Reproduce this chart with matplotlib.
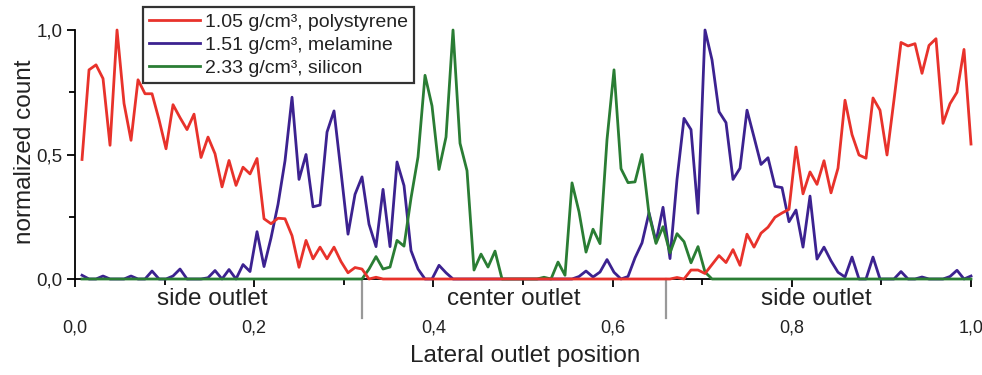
import matplotlib
matplotlib.use('Agg')
import matplotlib.pyplot as plt
import matplotlib.transforms as mtransforms
from matplotlib.ticker import FuncFormatter, MultipleLocator
import numpy as np

plt.rcParams['font.family'] = ['Liberation Sans', 'DejaVu Sans']
plt.rcParams['text.color'] = '#222222'
plt.rcParams['xtick.labelcolor'] = '#222222'
plt.rcParams['ytick.labelcolor'] = '#222222'
plt.rcParams['axes.labelcolor'] = '#222222'

# normalized counts per outlet bin (128 bins over the channel width)
polystyrene = [
    0.48, 0.84, 0.86, 0.805, 0.537, 1.0, 0.705, 0.557, 0.80, 0.744,
    0.744, 0.64, 0.523, 0.70, 0.648, 0.60, 0.662, 0.488, 0.57, 0.503,
    0.37, 0.476, 0.376, 0.449, 0.422, 0.484, 0.242, 0.222, 0.244, 0.242,
    0.174, 0.047, 0.155, 0.081, 0.128, 0.081, 0.128, 0.07, 0.025, 0.046,
    0.04, 0.0, 0.007, 0.0, 0.0, 0.0, 0.0, 0.0, 0.0, 0.0,
    0.0, 0.0, 0.0, 0.0, 0.0, 0.0, 0.0, 0.0, 0.0, 0.0,
    0.0, 0.0, 0.0, 0.0, 0.0, 0.0, 0.0, 0.0, 0.0, 0.0,
    0.0, 0.0, 0.0, 0.0, 0.0, 0.0, 0.0, 0.0, 0.0, 0.0,
    0.0, 0.0, 0.0, 0.0, 0.0, 0.006, 0.0, 0.036, 0.036, 0.022,
    0.058, 0.094, 0.066, 0.118, 0.055, 0.18, 0.128, 0.184, 0.208, 0.248,
    0.265, 0.28, 0.53, 0.342, 0.43, 0.38, 0.475, 0.346, 0.445, 0.718,
    0.58, 0.498, 0.485, 0.727, 0.678, 0.498, 0.72, 0.95, 0.936, 0.945,
    0.826, 0.938, 0.965, 0.625, 0.704, 0.75, 0.922, 0.542,
]
melamine = [
    0.015, 0.0, 0.0, 0.012, 0.0, 0.0, 0.0, 0.012, 0.0, 0.0,
    0.032, 0.0, 0.0, 0.012, 0.04, 0.0, 0.0, 0.0, 0.005, 0.034,
    0.0, 0.038, 0.0, 0.058, 0.03, 0.19, 0.05, 0.165, 0.30, 0.475,
    0.73, 0.40, 0.50, 0.29, 0.297, 0.59, 0.675, 0.43, 0.18, 0.34,
    0.41, 0.22, 0.13, 0.36, 0.13, 0.47, 0.375, 0.114, 0.04, 0.0,
    0.0, 0.055, 0.025, 0.0, 0.0, 0.0, 0.0, 0.0, 0.0, 0.0,
    0.0, 0.0, 0.0, 0.0, 0.0, 0.0, 0.0, 0.0, 0.0, 0.0,
    0.0, 0.01, 0.032, 0.008, 0.028, 0.078, 0.027, 0.0, 0.01, 0.085,
    0.145, 0.266, 0.15, 0.288, 0.082, 0.40, 0.645, 0.60, 0.264, 1.0,
    0.88, 0.672, 0.628, 0.40, 0.445, 0.678, 0.57, 0.46, 0.487, 0.372,
    0.367, 0.23, 0.277, 0.128, 0.333, 0.08, 0.128, 0.073, 0.027, 0.008,
    0.088, 0.0, 0.0, 0.088, 0.0, 0.0, 0.0, 0.03, 0.0, 0.0,
    0.008, 0.0, 0.0, 0.0, 0.01, 0.035, 0.0, 0.012,
]
silicon = [
    0.0, 0.0, 0.0, 0.0, 0.0, 0.0, 0.0, 0.0, 0.0, 0.0,
    0.0, 0.0, 0.0, 0.0, 0.0, 0.0, 0.0, 0.0, 0.0, 0.0,
    0.0, 0.0, 0.0, 0.0, 0.0, 0.0, 0.0, 0.0, 0.0, 0.0,
    0.0, 0.0, 0.0, 0.0, 0.0, 0.0, 0.0, 0.0, 0.0, 0.0,
    0.0, 0.04, 0.09, 0.04, 0.048, 0.155, 0.132, 0.325, 0.49, 0.818,
    0.695, 0.44, 0.57, 1.0, 0.545, 0.435, 0.036, 0.10, 0.048, 0.112,
    0.0, 0.0, 0.0, 0.0, 0.0, 0.0, 0.007, 0.0, 0.068, 0.015,
    0.386, 0.27, 0.108, 0.20, 0.142, 0.56, 0.84, 0.443, 0.387, 0.39,
    0.50, 0.26, 0.143, 0.21, 0.105, 0.182, 0.15, 0.065, 0.13, 0.028,
    0.0, 0.0, 0.0, 0.0, 0.0, 0.0, 0.0, 0.0, 0.0, 0.0,
    0.0, 0.0, 0.0, 0.0, 0.0, 0.0, 0.0, 0.0, 0.0, 0.0,
    0.0, 0.0, 0.0, 0.0, 0.0, 0.0, 0.0, 0.0, 0.0, 0.0,
    0.0, 0.0, 0.0, 0.0, 0.0, 0.0, 0.0, 0.0,
]
n_bins = 128
position = np.arange(1, n_bins + 1) / n_bins

labels = ['1.05 g/cm³, polystyrene', '1.51 g/cm³, melamine', '2.33 g/cm³, silicon']
colors = ['#e8322b', '#3c2290', '#2a7d34']

outlet_names = ['side outlet', 'center outlet', 'side outlet']
outlet_centers = [0.153, 0.49, 0.827]
outlet_bounds = [0.32, 0.66]

fig = plt.figure(figsize=(9.82, 3.75), dpi=100)
ax = fig.add_axes([0.0764, 0.256, 0.9124, 0.664])

lw = 2.0
l_ps, = ax.plot(position, polystyrene, color=colors[0], lw=lw, zorder=3.2, clip_on=False)
l_mel, = ax.plot(position, melamine, color=colors[1], lw=lw, zorder=3.0, clip_on=False)
l_si, = ax.plot(position, silicon, color=colors[2], lw=lw, zorder=3.1, clip_on=False)

ax.set_xlim(0, 1)
ax.set_ylim(0, 1)

for s in ['top', 'right']:
    ax.spines[s].set_visible(False)
for s in ['left', 'bottom']:
    ax.spines[s].set_linewidth(1.3)

comma = FuncFormatter(lambda v, p: f'{v:.1f}'.replace('.', ','))
ax.xaxis.set_major_locator(MultipleLocator(0.2))
ax.xaxis.set_minor_locator(MultipleLocator(0.1))
ax.yaxis.set_major_locator(MultipleLocator(0.5))
ax.yaxis.set_minor_locator(MultipleLocator(0.25))
ax.xaxis.set_major_formatter(comma)
ax.yaxis.set_major_formatter(comma)
ax.tick_params(axis='x', which='major', length=6, width=1.3, pad=23, labelsize=13)
ax.tick_params(axis='x', which='minor', length=4, width=1.3)
ax.tick_params(axis='y', which='major', length=6, width=1.3, pad=3, labelsize=13.5)
ax.tick_params(axis='y', which='minor', length=4, width=1.3)

ax.set_ylabel('normalized count', fontsize=17.5)
ax.yaxis.set_label_coords(-0.044, 0.51)
ax.set_xlabel('Lateral outlet position', fontsize=17.5)
ax.xaxis.set_label_coords(0.502, -0.265)

# outlet regions below the axis
trans = mtransforms.blended_transform_factory(ax.transData, ax.transAxes)
for xb in outlet_bounds:
    ax.plot([xb, xb], [0, -0.157], color='#999999', lw=1.6, transform=trans, clip_on=False)
for name, xc in zip(outlet_names, outlet_centers):
    ax.text(xc, -0.082, name, transform=trans, ha='center', va='center', fontsize=17.5)

leg = ax.legend([l_ps, l_mel, l_si], labels, loc='upper left', bbox_to_anchor=(0.0759, 1.092),
                borderaxespad=0, fontsize=14, frameon=True, fancybox=False,
                handlelength=2.6, handletextpad=0.25, labelspacing=0.28, borderpad=0.32)
leg.get_frame().set_edgecolor('black')
leg.get_frame().set_linewidth(1.6)

fig.savefig('out.png', dpi=100)
